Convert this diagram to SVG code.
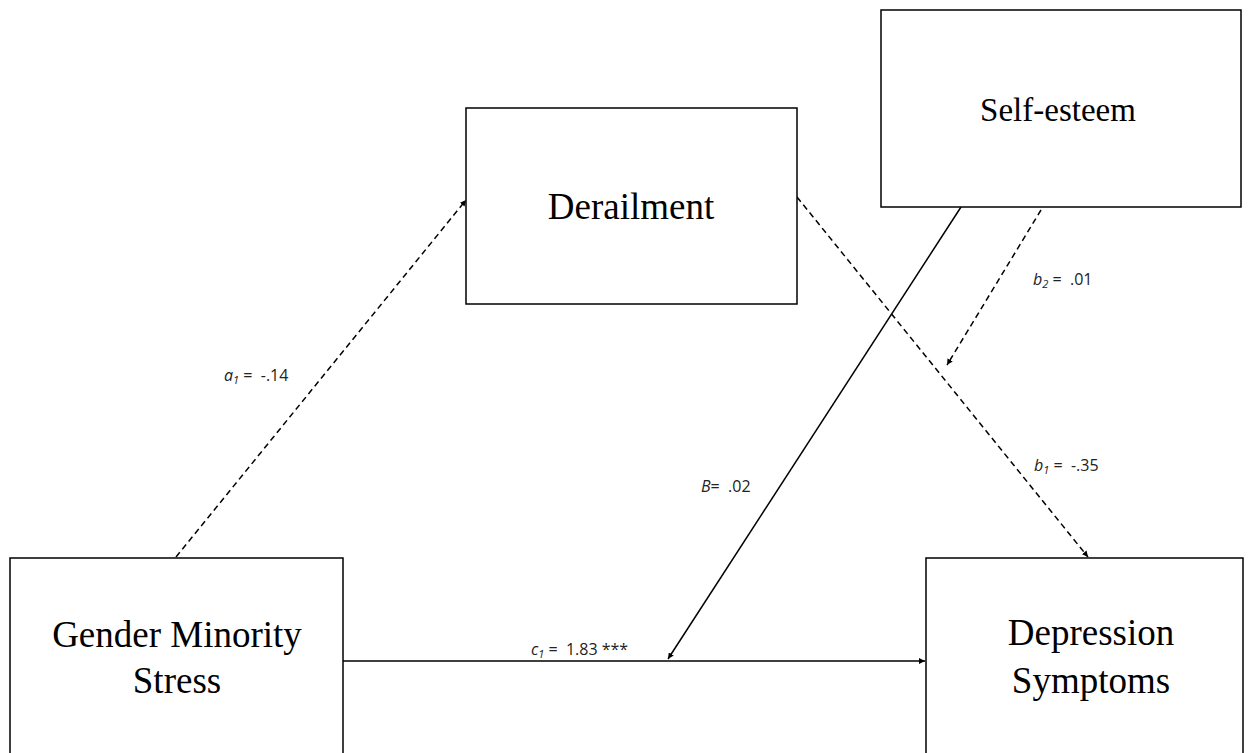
<svg xmlns="http://www.w3.org/2000/svg" width="1252" height="753" viewBox="0 0 1252 753">
<style>
.box{fill:#fff;stroke:#000;stroke-width:1.5}
.t{font-family:"Liberation Serif",serif;font-size:37px;fill:#000;text-anchor:middle}
.l{font-family:"Open Sans","Liberation Sans",sans-serif;font-size:16px;fill:#222}
.sub{font-size:11px;font-style:italic}
.d{stroke:#000;stroke-width:1.5;stroke-dasharray:6,4;fill:none}
.s{stroke:#000;stroke-width:1.5;fill:none}
</style>
<defs>
<marker id="ah" viewBox="0 0 10 10" refX="10" refY="5" markerWidth="6" markerHeight="6" orient="auto" markerUnits="userSpaceOnUse">
<path d="M0,0 L10,5 L0,10 z" fill="#000"/>
</marker>
</defs>
<rect width="1252" height="753" fill="#fff"/>
<g id="connectors">
<line class="d" x1="176" y1="557" x2="466" y2="200" marker-end="url(#ah)"/>
<line class="d" x1="797" y1="197" x2="1088" y2="557" marker-end="url(#ah)"/>
<line class="s" x1="961" y1="207" x2="668" y2="659" marker-end="url(#ah)"/>
<line class="d" x1="1041" y1="210" x2="947" y2="365" marker-end="url(#ah)"/>
<line class="s" x1="343" y1="661" x2="925" y2="661" marker-end="url(#ah)"/>
</g>
<g id="labels">
<text class="l" x="224" y="381"><tspan font-style="italic">a</tspan><tspan class="sub" dy="3">1</tspan><tspan dy="-3"> =&#160; -.14</tspan></text>
<text class="l" x="1033" y="285"><tspan font-style="italic">b</tspan><tspan class="sub" dy="3">2</tspan><tspan dy="-3"> =&#160; .01</tspan></text>
<text class="l" x="701" y="492"><tspan font-style="italic">B</tspan>=&#160; .02</text>
<text class="l" x="1034" y="471"><tspan font-style="italic">b</tspan><tspan class="sub" dy="3">1</tspan><tspan dy="-3"> =&#160; -.35</tspan></text>
<text class="l" x="531" y="655"><tspan font-style="italic">c</tspan><tspan class="sub" dy="3">1</tspan><tspan dy="-3"> =&#160; 1.83 ***</tspan></text>
</g>
<g id="derailment">
<rect class="box" x="466" y="108" width="331" height="196"/>
<text class="t" x="631" y="219">Derailment</text>
</g>
<g id="self-esteem">
<rect class="box" x="881" y="10" width="360" height="197"/>
<text class="t" x="1058" y="121" style="font-size:33px">Self-esteem</text>
</g>
<g id="gms">
<rect class="box" x="10" y="558" width="333" height="210"/>
<text class="t" x="177" y="647">Gender Minority</text>
<text class="t" x="177" y="693">Stress</text>
</g>
<g id="depression">
<rect class="box" x="926" y="558" width="317" height="210"/>
<text class="t" x="1091" y="645">Depression</text>
<text class="t" x="1091" y="693">Symptoms</text>
</g>
</svg>
